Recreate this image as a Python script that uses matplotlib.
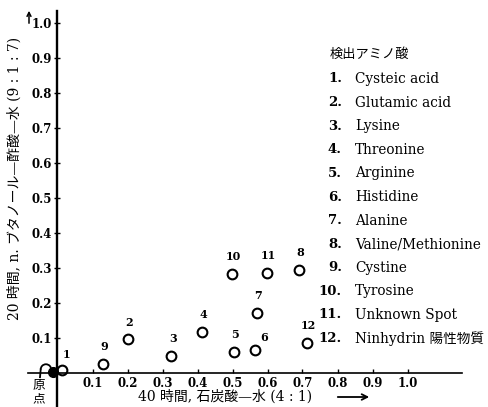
import matplotlib.pyplot as plt
from matplotlib.patches import Arc

# Rf values of the spots on the 2-D paper chromatogram
spot_no = [1, 2, 3, 4, 5, 6, 7, 8, 9, 10, 11, 12]
rf_phenol = [0.013, 0.200, 0.325, 0.413, 0.503, 0.563, 0.570, 0.691, 0.129, 0.499, 0.598, 0.712]
rf_butanol = [0.009, 0.096, 0.050, 0.118, 0.060, 0.067, 0.171, 0.295, 0.027, 0.283, 0.286, 0.086]

amino_acids = ['Cysteic acid', 'Glutamic acid', 'Lysine', 'Threonine', 'Arginine',
               'Histidine', 'Alanine', 'Valine/Methionine', 'Cystine', 'Tyrosine',
               'Unknown Spot', 'Ninhydrin 陽性物質']

ticks = [0.1, 0.2, 0.3, 0.4, 0.5, 0.6, 0.7, 0.8, 0.9, 1.0]
origin = (0.0, 0.0)

SERIF = ['DejaVu Serif', 'Noto Sans CJK JP']
W, H = 488, 407


def px(x, y):
    # pixel position -> figure fraction
    return x / W, 1 - y / H


fig = plt.figure(figsize=(W / 100, H / 100), dpi=100)
ax = fig.add_axes([0, 0, 1, 1])
ax.set_xlim(-57.5 / 350, 430.5 / 350)
ax.set_ylim(-34 / 350, 373 / 350)

# axes crossing at the origin
for s in ['top', 'right']:
    ax.spines[s].set_visible(False)
ax.spines['left'].set_position(('data', 0))
ax.spines['bottom'].set_position(('data', 0))
ax.spines['left'].set_bounds(-0.1, 1.035)
ax.spines['bottom'].set_bounds(-0.085, 1.155)
ax.spines['left'].set_linewidth(1.7)
ax.spines['bottom'].set_linewidth(1.2)

ax.set_xticks(ticks)
ax.set_yticks(ticks)
ax.set_xticklabels([f'{t:.1f}' for t in ticks], family='DejaVu Serif', weight='bold', fontsize=8.5)
ax.set_yticklabels([f'{t:.1f}' for t in ticks], family='DejaVu Serif', weight='bold', fontsize=8.5)
ax.tick_params(axis='x', direction='in', length=3, width=1, pad=3)
ax.tick_params(axis='y', direction='inout', length=4, width=1, pad=2)

# spots
ax.plot(rf_phenol, rf_butanol, 'o', ls='none', mfc='none', mec='black', ms=7, mew=1.5)

offsets = {6: (7, 5), 1: (3, 7)}
for n, x, y in zip(spot_no, rf_phenol, rf_butanol):
    dx, dy = offsets.get(n, (1, 8.5))
    ax.annotate(str(n), (x, y), xytext=(dx, dy), textcoords='offset points',
                ha='center', va='bottom', family='DejaVu Serif', weight='bold', fontsize=8)

# origin spot
ax.plot(origin[0] - 0.013, origin[1] + 0.003, 'o', color='black', ms=7)
ax.add_patch(Arc((origin[0] - 0.033, origin[1] + 0.01), 0.03, 0.03, theta1=0, theta2=180,
                 color='black', lw=1.3))
ax.plot([origin[0] - 0.048, origin[0] - 0.05], [origin[1] + 0.01, origin[1] - 0.012],
        color='black', lw=1.3)
fig.text(*px(39, 385), '原', family=SERIF, fontsize=9, ha='center', va='center')
fig.text(*px(39, 399), '点', family=SERIF, fontsize=9, ha='center', va='center')

# axis titles with direction arrows
fig.text(*px(15, 178), '20 時間, n. ブタノール—酢酸—水 (9 : 1 : 7)', family=SERIF,
         fontsize=10, rotation=90, ha='center', va='center')
ax.annotate('', xy=px(29, 8), xytext=px(29, 26), xycoords='figure fraction',
            textcoords='figure fraction',
            arrowprops=dict(arrowstyle='->', lw=1.1, color='black', mutation_scale=7))
fig.text(*px(225, 397), '40 時間, 石炭酸—水 (4 : 1)', family=SERIF,
         fontsize=10, ha='center', va='center')
ax.annotate('', xy=px(372, 397), xytext=px(335, 397), xycoords='figure fraction',
            textcoords='figure fraction',
            arrowprops=dict(arrowstyle='->', lw=1.3, color='black'))

# list of detected amino acids
fig.text(*px(330, 54), '検出アミノ酸', family=SERIF, fontsize=9.5, ha='left', va='center')
for i, name in enumerate(amino_acids):
    y = 79 + 23.6 * i
    fig.text(*px(342, y), f'{i + 1}.', family=SERIF, fontsize=9.5, weight='bold',
             ha='right', va='center')
    fig.text(*px(355, y), name, family=SERIF, fontsize=9.8, ha='left', va='center')

plt.savefig('out.png', dpi=100)
